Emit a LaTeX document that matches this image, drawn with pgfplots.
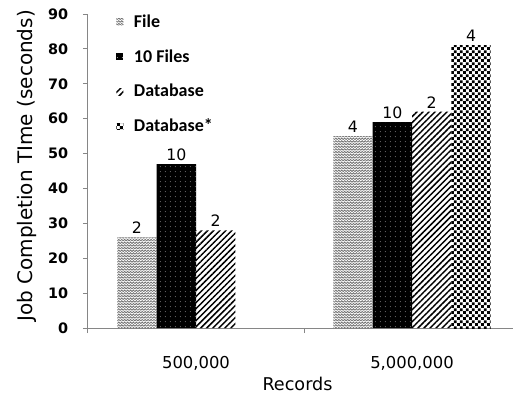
\documentclass[border=0pt]{standalone}
\usepackage{pgfplots}
\pgfplotsset{compat=1.18}
\usepackage{fontspec}
\setmainfont{DejaVu Sans}
\newfontfamily\legfont{Carlito}
\usetikzlibrary{patterns,patterns.meta,calc}

\pgfdeclarepatternformonly{zigzag}{\pgfqpoint{-0.5pt}{-0.5pt}}{\pgfqpoint{2.7pt}{2.5pt}}{\pgfqpoint{2.2pt}{2.0pt}}{%
  \pgfsetlinewidth{0.6pt}%
  \pgfpathmoveto{\pgfqpoint{0pt}{0.3pt}}%
  \pgfpathlineto{\pgfqpoint{1.1pt}{1.5pt}}%
  \pgfpathlineto{\pgfqpoint{2.2pt}{0.3pt}}%
  \pgfusepath{stroke}}
\pgfdeclarepatternformonly{checker}{\pgfqpoint{0pt}{0pt}}{\pgfqpoint{4.4pt}{4.4pt}}{\pgfqpoint{4.4pt}{4.4pt}}{%
  \pgfpathrectangle{\pgfqpoint{0pt}{0pt}}{\pgfqpoint{2.2pt}{2.2pt}}%
  \pgfpathrectangle{\pgfqpoint{2.2pt}{2.2pt}}{\pgfqpoint{2.2pt}{2.2pt}}%
  \pgfusepath{fill}}
\pgfdeclarepatternformonly{sparsedots}{\pgfqpoint{0pt}{0pt}}{\pgfqpoint{3.6pt}{3.6pt}}{\pgfqpoint{3.6pt}{3.6pt}}{%
  \pgfpathcircle{\pgfqpoint{1.8pt}{1.8pt}}{0.38pt}%
  \pgfusepath{fill}}

\definecolor{axgray}{RGB}{134,134,134}

\begin{document}
\begin{tikzpicture}
\begin{axis}[name=ax,
  scale only axis, width=318.75pt, height=235.5pt,
  ybar=0pt, bar width=29.5pt,
  xmin=-0.5, xmax=1.4676, ymin=0, ymax=90,
  axis lines=left, axis line style={-, draw=axgray, line width=0.75pt},
  tick align=outside, major tick length=3.75pt,
  tick style={draw=axgray, line width=0.75pt},
  ytick={0,10,...,90},
  /pgf/number format/assume math mode=true,
  yticklabel style={font=\fontsize{10.8}{12}\selectfont\bfseries, inner sep=0pt, xshift=-11pt},
  xtick={-0.5,0.5}, xticklabels={},
  extra x ticks={0,1}, extra x tick labels={{500,000},{5,000,000}},
  extra x tick style={major tick length=0pt, xticklabel style={font=\fontsize{12.3}{14}\selectfont, inner sep=0pt, anchor=north, yshift=-21pt}},
  xlabel={Records},
  xlabel style={font=\fontsize{13.2}{15}\selectfont, at={(axis description cs:0.493,-0.156)}, anchor=north, inner sep=0pt},
  ylabel={Job Completion TIme (seconds)},
  ylabel style={font=\fontsize{15}{18}\selectfont, at={(axis description cs:-0.1435,0.516)}, anchor=center, inner sep=0pt},
  nodes near coords, point meta=explicit symbolic,
  every node near coord/.append style={font=\fontsize{11.8}{13}\selectfont, inner sep=0pt, anchor=south, yshift=2.5pt},
  legend style={at={(axis description cs:0.066,1.007)}, anchor=north west, draw=none, fill=none,
    inner sep=0pt, row sep=11.1pt, column sep=6pt,
    font=\legfont\bfseries\fontsize{13.5}{15}\selectfont},
  legend cell align=left,
  legend image code/.code={\path[#1, draw=none] (0pt,-2.6pt) rectangle (5.25pt,2.6pt);},
]
\addplot[draw=none, pattern=zigzag, pattern color=black!55] coordinates {(0,26) [2] (1,55) [4]};
\addplot[draw=none, fill=black, postaction={pattern=sparsedots, pattern color=gray!70}] coordinates {(0,47) [10] (1,59) [10]};
\addplot[draw=none, pattern={Lines[angle=45,distance=3.2pt,line width=1.1pt]}, pattern color=black] coordinates {(0,28) [2] (1,62) [2]};
\addplot[draw=none, pattern=checker, pattern color=black] coordinates {(1,81) [4]};
\legend{File, 10 Files, Database, Database*}
\end{axis}
\pgfresetboundingbox
\path[use as bounding box] ($(ax.south west)+(-66pt,-51pt)$) rectangle ($(ax.south west)+(318.75pt,246pt)$);
\end{tikzpicture}
\end{document}
